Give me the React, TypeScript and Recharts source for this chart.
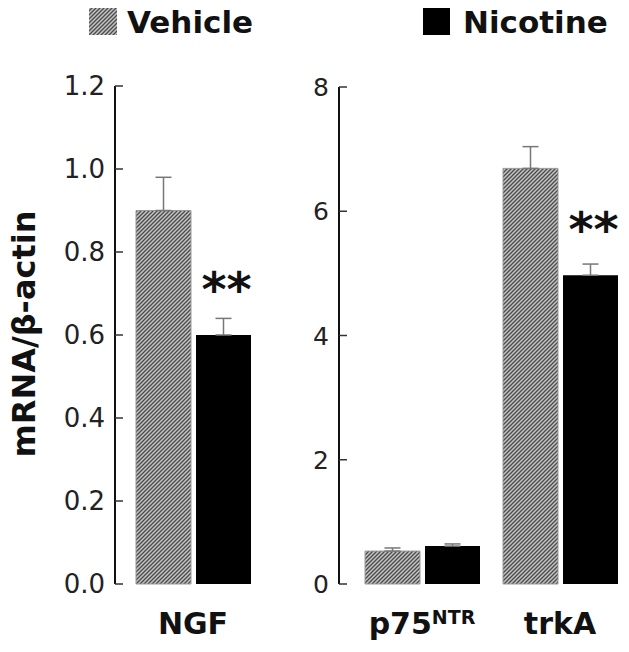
import React from 'react';
import { BarChart, Bar, XAxis, YAxis, ErrorBar, LabelList } from 'recharts';

// ---- data ----
const leftCategories = ['NGF'];
const leftVehicle = [0.9];
const leftVehicleErr = [0.08];
const leftNicotine = [0.6];
const leftNicotineErr = [0.04];
const leftSig = ['**'];
const leftTicks = [0, 0.2, 0.4, 0.6, 0.8, 1.0, 1.2];

const rightCategories = ['p75NTR', 'trkA'];
const rightVehicle = [0.53, 6.69];
const rightVehicleErr = [0.05, 0.35];
const rightNicotine = [0.61, 4.97];
const rightNicotineErr = [0.035, 0.18];
const rightSig = ['', '**'];
const rightTicks = [0, 2, 4, 6, 8];

const legendLabels = ['Vehicle', 'Nicotine'];
const yAxisTitle = 'mRNA/\u03b2-actin';

const build = (cats: string[], v: number[], ve: number[], n: number[], ne: number[], s: string[]) =>
  cats.map((c, i) => ({
    name: c,
    vehicle: v[i],
    vehicleErr: [0, ve[i]],
    nicotine: n[i],
    nicotineErr: [0, ne[i]],
    sig: s[i],
  }));

const leftData = build(leftCategories, leftVehicle, leftVehicleErr, leftNicotine, leftNicotineErr, leftSig);
const rightData = build(rightCategories, rightVehicle, rightVehicleErr, rightNicotine, rightNicotineErr, rightSig);

const BOLD = '"DejaVu Sans", Verdana, sans-serif';
const LEFT_AXIS_W = 115;
const RIGHT_AXIS_W = 79;

const HatchDefs = ({ id }: { id: string }) => (
  <defs>
    <pattern id={id} patternUnits="userSpaceOnUse" width={4} height={4}>
      <rect x={0} y={0} width={4} height={4} fill="#c4c4c4" />
      <path d="M-1,1 l2,-2 M0,4 l4,-4 M3,5 l2,-2" stroke="#4a4a4a" strokeWidth={1.3} />
    </pattern>
  </defs>
);

const makeYTick = (fontSize: number, fmt: (v: number) => string) => (props: any) => {
  const { x, y, payload } = props;
  return (
    <text x={x} y={y} dy="0.36em" textAnchor="end" fontSize={fontSize} fill="#222" fontFamily='"DejaVu Sans", Verdana, sans-serif'>
      {fmt(payload.value)}
    </text>
  );
};

const XTick = (props: any) => {
  const { x, y, payload } = props;
  const v: string = payload.value;
  if (v === 'p75NTR') {
    return (
      <text x={x} y={y + 42} textAnchor="middle" fontSize={30} fontWeight="bold" fill="#111" fontFamily={BOLD}>
        <tspan>p75</tspan>
        <tspan fontSize={19} dy={-10}>NTR</tspan>
      </text>
    );
  }
  return (
    <text x={x} y={y + 42} textAnchor="middle" fontSize={30} fontWeight="bold" fill="#111" fontFamily={BOLD}>
      {v}
    </text>
  );
};

const SigLabel = (props: any) => {
  const { x, y, width, value } = props;
  if (!value) return null;
  return (
    <text x={x + width / 2 + 3} y={y - 29} textAnchor="middle" fontSize={48} fontWeight="bold" fill="#111" fontFamily={BOLD}>
      {value}
    </text>
  );
};

const YTitle = (props: any) => {
  const vb = props.viewBox || {};
  const cy = (vb.y || 0) + (vb.height || 0) / 2 - 1;
  return (
    <text x={35} y={cy} transform={`rotate(-90 35 ${cy})`} textAnchor="middle" fontSize={32} fontWeight="bold" fill="#111" fontFamily={BOLD}>
      {yAxisTitle}
    </text>
  );
};

export default function App() {
  return (
    <div style={{ position: 'absolute', left: 0, top: 0, width: 629, height: 652, background: '#fff', overflow: 'hidden' }}>
      {/* legend */}
      <svg width={629} height={45} style={{ position: 'absolute', left: 0, top: 0 }}>
        <HatchDefs id="hatchLegend" />
        <rect x={89} y={8} width={28} height={27} fill="url(#hatchLegend)" />
        <text x={127} y={33} fontSize={31} fontWeight="bold" fill="#111" fontFamily={BOLD}>{legendLabels[0]}</text>
        <rect x={423} y={8} width={27} height={27} fill="#000" />
        <text x={463} y={33} fontSize={31} fontWeight="bold" fill="#111" fontFamily={BOLD}>{legendLabels[1]}</text>
      </svg>

      {/* left panel */}
      <div style={{ position: 'absolute', left: 0, top: 0 }}>
        <BarChart width={280} height={652} data={leftData} margin={{ top: 86, right: 9, bottom: 0, left: 0 }} barSize={55} barGap={5}>
          <HatchDefs id="hatchL" />
          <XAxis dataKey="name" axisLine={false} tickLine={false} height={68} tick={XTick} interval={0} />
          <YAxis
            domain={[0, 1.2]}
            ticks={leftTicks}
            width={LEFT_AXIS_W}
            tickSize={-8}
            tickMargin={18}
            tickLine={{ stroke: '#333', strokeWidth: 1.5 }}
            axisLine={{ stroke: '#111', strokeWidth: 2 }}
            tick={makeYTick(26, (v) => v.toFixed(1))}
            interval={0}
            label={<YTitle />}
          />
          <Bar dataKey="vehicle" fill="url(#hatchL)" stroke="#999" strokeWidth={1} isAnimationActive={false}>
            <ErrorBar dataKey="vehicleErr" direction="y" width={8} stroke="#777" strokeWidth={1.5} />
          </Bar>
          <Bar dataKey="nicotine" fill="#000" isAnimationActive={false}>
            <ErrorBar dataKey="nicotineErr" direction="y" width={8} stroke="#777" strokeWidth={1.5} />
            <LabelList dataKey="sig" content={SigLabel} />
          </Bar>
        </BarChart>
      </div>

      {/* right panel */}
      <div style={{ position: 'absolute', left: 260, top: 0 }}>
        <BarChart width={369} height={652} data={rightData} margin={{ top: 87, right: 0, bottom: 0, left: 0 }} barSize={55} barGap={5}>
          <HatchDefs id="hatchR" />
          <XAxis dataKey="name" axisLine={false} tickLine={false} height={68} tick={XTick} interval={0} padding={{ left: 14, right: 0 }} />
          <YAxis
            domain={[0, 8]}
            ticks={rightTicks}
            width={RIGHT_AXIS_W}
            tickSize={-8}
            tickMargin={18}
            tickLine={{ stroke: '#333', strokeWidth: 1.5 }}
            axisLine={{ stroke: '#111', strokeWidth: 2 }}
            tick={makeYTick(25, (v) => String(v))}
            interval={0}
          />
          <Bar dataKey="vehicle" fill="url(#hatchR)" stroke="#999" strokeWidth={1} isAnimationActive={false}>
            <ErrorBar dataKey="vehicleErr" direction="y" width={8} stroke="#777" strokeWidth={1.5} />
          </Bar>
          <Bar dataKey="nicotine" fill="#000" isAnimationActive={false}>
            <ErrorBar dataKey="nicotineErr" direction="y" width={8} stroke="#777" strokeWidth={1.5} />
            <LabelList dataKey="sig" content={SigLabel} />
          </Bar>
        </BarChart>
      </div>
    </div>
  );
}
